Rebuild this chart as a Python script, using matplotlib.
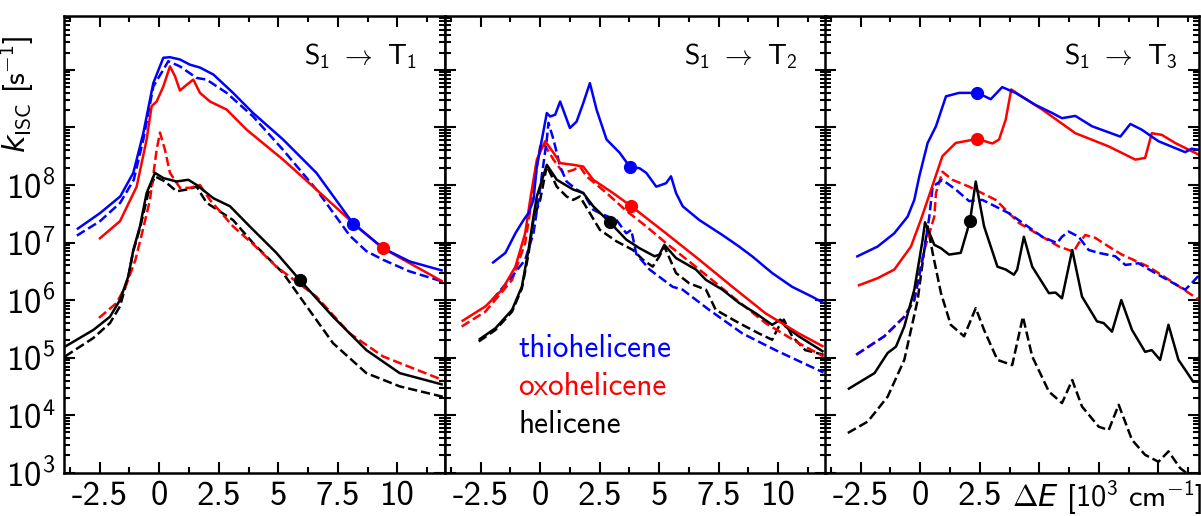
import numpy as np
import matplotlib
matplotlib.use("Agg")
import matplotlib.pyplot as plt
from matplotlib.ticker import MultipleLocator, LogLocator, FuncFormatter, NullFormatter
from matplotlib.transforms import blended_transform_factory

plt.rcParams['font.family'] = 'cmss10'
plt.rcParams['mathtext.fontset'] = 'custom'
plt.rcParams['mathtext.rm'] = 'cmss10'
plt.rcParams['mathtext.sf'] = 'cmss10'
plt.rcParams['mathtext.it'] = 'DejaVu Sans:italic'
plt.rcParams['axes.unicode_minus'] = False

# data: (Delta E [10^3 cm^-1], log10 k_ISC [s^-1])
# --- S1 -> T1
t1_thio = [(-3.46, 7.23), (-2.49, 7.51), (-1.64, 7.80), (-1.09, 8.21), (-0.67, 8.90), (-0.25, 9.77),
           (0.17, 10.21), (0.45, 10.22), (0.87, 10.18), (1.29, 10.09), (1.71, 10.04), (2.27, 9.92),
           (3.10, 9.60), (3.94, 9.25), (5.20, 8.79), (6.60, 8.21), (8.14, 7.33), (9.40, 6.90),
           (10.52, 6.67), (11.91, 6.51)]
t1_thio_d = [(-3.46, 7.12), (-2.49, 7.37), (-1.64, 7.69), (-1.07, 8.09), (-0.67, 8.79), (-0.25, 9.71),
             (0.38, 10.15), (0.87, 10.06), (1.57, 9.86), (1.99, 9.83), (2.83, 9.60), (3.94, 9.19),
             (5.20, 8.61), (6.60, 7.92), (8.0, 7.12), (8.7, 6.85), (9.4, 6.70), (10.5, 6.50), (11.91, 6.32)]
t1_oxo = [(-2.53, 7.06), (-1.65, 7.37), (-0.95, 7.97), (-0.53, 8.79), (-0.32, 9.37), (-0.11, 9.45),
          (0.17, 9.71), (0.45, 10.06), (0.66, 9.89), (0.87, 9.64), (1.15, 9.74), (1.43, 9.83),
          (1.71, 9.60), (2.13, 9.45), (2.83, 9.31), (3.67, 8.96), (5.20, 8.44), (6.60, 7.92),
          (8.14, 7.34), (9.40, 6.90), (10.52, 6.64), (11.91, 6.32)]
t1_oxo_d = [(-2.53, 5.69), (-1.79, 5.95), (-1.40, 6.25), (-1.0, 6.70), (-0.70, 7.2), (-0.39, 7.74),
            (-0.11, 8.61), (0.03, 8.91), (0.24, 8.61), (0.45, 8.21), (0.87, 7.95), (1.29, 7.95),
            (1.71, 8.0), (2.13, 7.74), (3.10, 7.28), (4.0, 6.95), (4.92, 6.58), (6.60, 6.06),
            (8.0, 5.42), (9.40, 5.02), (11.91, 4.61)]
t1_hel = [(-3.96, 5.19), (-2.77, 5.48), (-2.07, 5.71), (-1.65, 6.0), (-1.30, 6.41), (-1.09, 6.87),
          (-0.81, 7.28), (-0.53, 7.86), (-0.18, 8.21), (0.17, 8.12), (0.73, 8.06), (1.22, 8.09),
          (1.57, 8.0), (2.27, 7.77), (2.97, 7.63), (3.80, 7.28), (4.92, 6.82), (5.90, 6.35),
          (7.30, 5.71), (8.70, 5.13), (10.10, 4.73), (11.91, 4.53)]
t1_hel_d = [(-3.96, 5.02), (-2.77, 5.34), (-2.07, 5.60), (-1.65, 5.89), (-1.30, 6.41), (-1.09, 6.85),
            (-0.81, 7.25), (-0.46, 7.86), (-0.18, 8.15), (0.24, 8.06), (0.73, 7.89), (1.15, 7.92),
            (1.57, 7.97), (1.99, 7.69), (3.10, 7.39), (3.94, 6.99), (5.20, 6.47), (5.90, 6.06),
            (7.30, 5.25), (8.70, 4.73), (10.10, 4.50), (11.91, 4.32)]
t1_dots = [(8.14, 7.33, 'thio'), (9.40, 6.90, 'oxo'), (5.90, 6.35, 'hel')]

# --- S1 -> T2
t2_thio = [(-2.02, 6.64), (-1.46, 6.82), (-1.04, 7.16), (-0.70, 7.39), (-0.49, 7.51), (-0.28, 7.74),
           (-0.14, 8.32), (0.28, 9.25), (0.42, 9.19), (0.63, 9.22), (0.84, 9.45), (1.25, 8.99),
           (1.53, 9.10), (1.81, 9.42), (2.09, 9.77), (2.37, 9.31), (2.79, 8.79), (3.34, 8.56),
           (3.76, 8.32), (4.18, 8.29), (4.46, 8.21), (4.88, 7.97), (5.29, 8.03), (5.50, 8.15),
           (5.71, 7.86), (5.99, 7.63), (6.69, 7.39), (7.66, 7.13), (8.36, 6.93), (8.91, 6.76),
           (9.75, 6.47), (10.59, 6.23), (11.42, 6.06), (11.91, 5.95)]
t2_thio_d = [(-2.02, 6.0), (-1.18, 6.41), (-0.63, 6.70), (-0.28, 7.16), (-0.07, 7.74), (0.28, 8.79),
             (0.35, 9.08), (0.56, 8.79), (0.84, 8.32), (1.11, 8.06), (1.53, 7.92), (1.81, 7.86),
             (2.23, 7.57), (2.51, 7.51), (3.21, 7.39), (3.62, 7.16), (3.83, 7.22), (4.04, 6.80),
             (4.60, 6.53), (5.57, 6.23), (5.99, 6.18), (7.10, 5.83), (8.50, 5.42), (9.89, 5.13),
             (11.91, 4.74)]
t2_oxo = [(-3.30, 5.63), (-2.30, 5.89), (-1.60, 6.18), (-1.04, 6.58), (-0.63, 7.16), (-0.42, 7.74),
          (-0.14, 8.44), (0.21, 8.76), (0.56, 8.56), (0.84, 8.38), (1.39, 8.35), (1.81, 8.32),
          (2.23, 8.09), (3.06, 7.86), (3.83, 7.63), (5.29, 7.16), (6.69, 6.70), (8.08, 6.23),
          (9.47, 5.77), (10.87, 5.42), (11.91, 5.19)]
t2_oxo_d = [(-3.30, 5.54), (-2.30, 5.80), (-1.18, 6.35), (-0.63, 6.99), (-0.35, 7.74), (0.0, 8.67),
            (0.14, 8.73), (0.56, 8.44), (0.97, 8.21), (1.39, 8.26), (1.67, 8.32), (1.95, 8.15),
            (2.79, 7.86), (3.62, 7.55), (4.46, 7.28), (5.29, 6.99), (6.69, 6.53), (8.08, 6.06),
            (9.47, 5.60), (10.87, 5.25), (11.91, 5.02)]
t2_hel = [(-2.58, 5.31), (-1.88, 5.51), (-1.18, 5.83), (-0.77, 6.23), (-0.49, 6.87), (-0.28, 7.45),
          (-0.14, 7.80), (0.28, 8.35), (0.70, 8.09), (1.39, 7.92), (1.81, 7.86), (2.23, 7.63),
          (2.93, 7.35), (3.62, 7.05), (4.18, 6.90), (4.81, 6.76), (5.01, 6.79), (5.22, 6.96),
          (5.71, 6.73), (6.55, 6.53), (6.97, 6.35), (7.66, 6.18), (8.36, 5.95), (9.06, 5.77),
          (9.75, 5.57), (10.10, 5.66), (10.31, 5.54), (10.87, 5.37), (11.91, 5.10)]
t2_hel_d = [(-2.58, 5.28), (-1.88, 5.48), (-1.18, 5.80), (-0.77, 6.20), (-0.49, 6.80), (-0.28, 7.40),
            (0.0, 7.74), (0.28, 8.33), (0.70, 7.97), (1.11, 7.80), (1.39, 7.74), (1.67, 7.80),
            (2.09, 7.51), (2.51, 7.22), (3.21, 7.02), (3.90, 6.87), (4.32, 6.70), (4.73, 6.58),
            (5.01, 6.76), (5.22, 6.93), (5.71, 6.47), (6.27, 6.29), (6.97, 6.18), (7.38, 5.83),
            (8.36, 5.60), (9.19, 5.42), (9.75, 5.31), (10.03, 5.54), (10.24, 5.66), (10.59, 5.37),
            (11.14, 5.13), (11.91, 5.05)]
t2_dots = [(3.76, 8.32, 'thio'), (3.83, 7.63, 'oxo'), (2.93, 7.35, 'hel')]

# --- S1 -> T3
t3_thio = [(-2.69, 6.75), (-1.79, 6.93), (-1.09, 7.16), (-0.53, 7.45), (-0.25, 7.74), (-0.04, 8.15),
           (0.31, 8.73), (0.66, 9.02), (1.08, 9.54), (1.63, 9.60), (2.40, 9.60), (2.96, 9.49),
           (3.44, 9.70), (4.00, 9.60), (4.84, 9.39), (5.54, 9.25), (5.95, 9.16), (6.51, 9.20),
           (7.21, 9.02), (8.40, 8.84), (8.82, 9.06), (9.30, 8.96), (10.0, 8.76), (11.12, 8.57),
           (11.39, 8.63), (11.72, 8.61)]
t3_thio_d = [(-2.69, 5.05), (-1.51, 5.37), (-0.67, 5.71), (-0.25, 6.0), (0.17, 6.87), (0.38, 7.45),
             (0.52, 7.97), (0.93, 8.09), (1.49, 7.92), (2.05, 7.72), (2.61, 7.74), (3.72, 7.51),
             (5.12, 7.10), (5.74, 6.99), (5.95, 7.10), (6.23, 7.19), (6.65, 7.10), (7.07, 6.87),
             (7.49, 6.82), (8.19, 6.76), (8.61, 6.61), (9.16, 6.64), (9.86, 6.47), (11.12, 6.18),
             (11.39, 6.29), (11.72, 6.44)]
t3_oxo = [(-2.62, 6.25), (-1.79, 6.38), (-1.09, 6.53), (-0.39, 6.93), (0.03, 7.40), (0.31, 7.74),
          (0.93, 8.50), (1.49, 8.73), (2.40, 8.80), (3.03, 8.72), (3.31, 8.79), (3.59, 9.14),
          (3.82, 9.66), (4.14, 9.57), (5.12, 9.31), (6.51, 8.90), (7.91, 8.67), (9.03, 8.44),
          (9.44, 8.47), (9.72, 8.90), (10.14, 8.87), (10.70, 8.73), (11.72, 8.52)]
t3_oxo_d = [(-2.69, 5.05), (-1.51, 5.37), (-0.67, 5.71), (-0.25, 6.0), (0.17, 6.87), (0.59, 7.45),
            (0.66, 7.86), (0.93, 8.23), (1.35, 8.09), (2.05, 7.97), (3.17, 7.74), (4.14, 7.34),
            (5.12, 7.10), (5.82, 6.93), (6.44, 6.84), (6.65, 6.99), (6.93, 7.13), (7.35, 7.08),
            (7.91, 6.93), (8.46, 6.79), (9.58, 6.58), (10.56, 6.32), (11.72, 6.0)]
t3_hel = [(-3.04, 4.45), (-1.92, 4.73), (-1.37, 5.08), (-1.02, 5.19), (-0.67, 5.54), (-0.25, 6.18),
          (0.10, 7.05), (0.20, 7.35), (0.59, 6.96), (0.87, 6.90), (1.21, 6.79), (1.70, 6.82),
          (1.98, 7.22), (2.09, 7.38), (2.33, 8.06), (2.68, 7.28), (3.24, 6.58), (3.59, 6.53),
          (3.93, 6.44), (4.07, 6.53), (4.35, 7.10), (4.70, 6.58), (5.40, 6.12), (5.68, 6.13),
          (5.95, 6.03), (6.38, 6.87), (6.79, 6.06), (7.42, 5.63), (7.70, 5.60), (8.05, 5.45),
          (8.44, 6.0), (8.89, 5.48), (9.44, 5.10), (9.72, 5.13), (10.07, 4.96), (10.42, 5.57),
          (10.84, 4.96), (11.12, 4.79), (11.46, 4.58), (11.72, 4.58)]
t3_hel_d = [(-3.04, 3.69), (-2.20, 3.89), (-1.37, 4.32), (-0.67, 4.96), (-0.11, 6.0), (0.17, 6.87),
            (0.31, 7.28), (0.52, 6.82), (0.87, 6.12), (1.28, 5.57), (1.84, 5.37), (2.33, 5.86),
            (2.68, 5.48), (3.24, 4.96), (3.86, 4.87), (4.31, 5.71), (4.70, 5.02), (5.40, 4.41),
            (5.95, 4.21), (6.38, 4.61), (6.79, 4.15), (7.49, 3.80), (7.91, 3.74), (8.33, 4.18),
            (8.89, 3.57), (9.44, 3.31), (10.0, 3.19), (10.42, 3.37), (10.91, 3.08), (11.19, 2.99)]
t3_dots = [(2.40, 9.60, 'thio'), (2.40, 8.80, 'oxo'), (2.09, 7.38, 'hel')]

titles = [r'S$_1$ $\rightarrow$ T$_1$', r'S$_1$ $\rightarrow$ T$_2$', r'S$_1$ $\rightarrow$ T$_3$']
names = ['thiohelicene', 'oxohelicene', 'helicene']
colors = {'thio': '#0000ff', 'oxo': '#ff0000', 'hel': '#000000'}

panels = [
    (t1_thio, t1_thio_d, t1_oxo, t1_oxo_d, t1_hel, t1_hel_d, t1_dots),
    (t2_thio, t2_thio_d, t2_oxo, t2_oxo_d, t2_hel, t2_hel_d, t2_dots),
    (t3_thio, t3_thio_d, t3_oxo, t3_oxo_d, t3_hel, t3_hel_d, t3_dots),
]
# axes boxes in figure fraction (left, bottom, width, height)
boxes = [(0.0533, 0.0839, 0.3172, 0.8855),
         (0.3705, 0.0839, 0.3170, 0.8855),
         (0.6869, 0.0839, 0.3118, 0.8855)]
xmax = [12, 12, 11.72]

fig = plt.figure(figsize=(12.01, 5.16), dpi=100)
lw = 1.8


def draw(ax, pts, color, ls):
    arr = np.array(pts)
    ax.plot(arr[:, 0], 10 ** arr[:, 1], color=color, ls=ls, lw=lw, solid_capstyle='butt')


def ylab(v, pos):
    e = int(round(np.log10(v)))
    return r'$\mathdefault{10^{%d}}$' % e if 3 <= e <= 8 else ''


def xlab_full(v, pos):
    return '%g' % v


def xlab_cut(v, pos):
    # the last panel's labels from 5 on sit under the axis title
    return '%g' % v if v < 4 else ''


axes = []
for i, (panel, box) in enumerate(zip(panels, boxes)):
    ax = fig.add_axes(box)
    axes.append(ax)
    thio, thio_d, oxo, oxo_d, hel, hel_d, dots = panel
    draw(ax, hel_d, colors['hel'], '--')
    draw(ax, oxo_d, colors['oxo'], '--')
    draw(ax, thio_d, colors['thio'], '--')
    draw(ax, hel, colors['hel'], '-')
    draw(ax, oxo, colors['oxo'], '-')
    draw(ax, thio, colors['thio'], '-')
    for x, y, key in dots:
        ax.plot(x, 10 ** y, 'o', color=colors[key], ms=8.5, zorder=5)

    ax.set_yscale('log')
    ax.set_ylim(1e3, 8.7e10)
    ax.set_xlim(-4, xmax[i])
    ax.xaxis.set_major_locator(MultipleLocator(2.5))
    ax.xaxis.set_minor_locator(MultipleLocator(1.25))
    ax.xaxis.set_major_formatter(FuncFormatter(xlab_cut if i == 2 else xlab_full))
    ax.yaxis.set_major_locator(LogLocator(base=10, numticks=20))
    ax.yaxis.set_minor_locator(LogLocator(base=10, subs=np.arange(2, 10), numticks=20))
    ax.yaxis.set_minor_formatter(NullFormatter())
    if i == 0:
        ax.yaxis.set_major_formatter(FuncFormatter(ylab))
    else:
        ax.yaxis.set_major_formatter(NullFormatter())
    ax.tick_params(which='both', direction='in', top=True, right=True, width=1.5, labelsize=25)
    ax.tick_params(which='major', length=8, pad=6)
    ax.tick_params(which='minor', length=4.5)
    for sp in ax.spines.values():
        sp.set_linewidth(1.8)

    tr = blended_transform_factory(ax.transData, ax.transAxes)
    ax.text(10.8, 0.893, titles[i], transform=tr, ha='right', va='baseline', fontsize=20)

axes[0].set_ylabel(r'$k_{\mathrm{ISC}}$ [s$^{-1}$]', fontsize=22)
axes[0].yaxis.set_label_coords(-0.071, 0.827)

for name, key, yb in zip(names, ['thio', 'oxo', 'hel'], [0.254, 0.170, 0.087]):
    axes[1].text(0.192, yb, name, color=colors[key], transform=axes[1].transAxes,
                 fontsize=22.5, va='baseline', ha='left')

fig.text(0.843, 0.0155, r'$\Delta E$ [10$^3$ cm$^{-1}$]', fontsize=22, ha='left', va='baseline',
         zorder=10)

fig.savefig('out.png', dpi=100)
